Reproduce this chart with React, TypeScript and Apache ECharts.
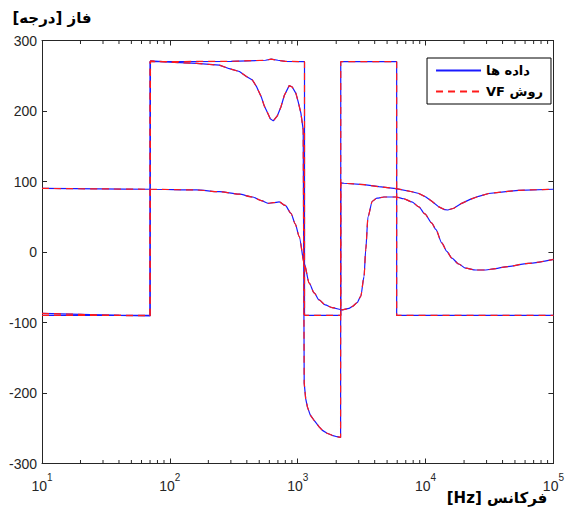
import React, { useEffect, useRef } from "react";
import * as echarts from "echarts";

// Frequency (Hz), phase (deg)
const curveA: [number, number][] = [
  [10, 90.3], [28, 89.5], [70, 89], [162, 88], [244, 85.5], [350, 82], [442, 78], [519, 73],
  [589, 69], [644, 70], [717, 71], [799, 66], [885, 55], [956, 40], [1027, 22], [1124, -16],
  [1229, -44], [1345, -58], [1471, -68], [1639, -75], [1858, -79], [2223, -82], [2521, -80],
  [2661, -77.6], [2911, -72], [3111, -63], [3301, -35], [3403, 3], [3546, 50], [3832, 72],
  [4168, 76.5], [4726, 78], [5861, 78], [6767, 75.5], [7814, 71], [8859, 64], [9867, 54],
  [11190, 41], [12020, 32], [13390, 13], [14650, 1], [16020, -8.5], [18170, -17], [20600, -23],
  [24650, -25.5], [29500, -25.5], [35300, -23.5], [42240, -21], [63830, -16], [100000, -10.4],
];

const curveB: [number, number][] = [
  [10, -87], [20, -88.5], [40, -90], [70, -90.5], [70.5, 271], [109, 269], [162, 267.5],
  [244, 265], [292, 260], [350, 256], [397, 249], [442, 244], [475, 235], [519, 220],
  [548, 207], [582, 197], [610, 189], [644, 186], [692, 193], [740, 206], [785, 222],
  [858, 236], [906, 234], [968, 225], [1009, 213], [1059, 197], [1104, 173], [1124, -186],
  [1154, -208], [1192, -220], [1252, -231], [1345, -239], [1471, -248], [1561, -253],
  [1698, -257], [1858, -260], [2032, -262], [2164, -263], [2170, 98], [2305, 97.5],
  [3300, 95.5], [4320, 92.6], [5861, 90], [7814, 85.5], [8859, 83], [10045, 78], [11190, 72],
  [12690, 64], [14130, 60], [14910, 59.6], [16610, 62], [19170, 69], [22540, 75], [26020, 79],
  [31140, 83], [39320, 85], [53350, 87.5], [100000, 89],
];

const curveC: [number, number][] = [
  [10, -90], [70, -90], [70, 270], [300, 270.5], [560, 272], [620, 273.5], [700, 272],
  [800, 270.5], [1130, 270], [1130, -90], [2170, -90], [2170, 270], [5940, 270], [5940, -90],
  [100000, -90],
];

const yTicks = { min: -300, max: 300, interval: 100 };
const xRange = { min: 10, max: 100000 };
const minorTicks: number[] = [];
for (const d of [10, 100, 1000, 10000]) for (let k = 2; k <= 9; k++) minorTicks.push(k * d);

const nameData = "داده ها";
const nameVF = "روش VF";
const yTitle = "فاز [درجه]";
const xTitle = "فرکانس [Hz]";

const AX = "#262626";
const FONT = "'Liberation Sans', Arial, sans-serif";
const PFONT = "'DejaVu Sans', sans-serif";

export default function App() {
  const ref = useRef<HTMLDivElement>(null);
  useEffect(() => {
    if (!ref.current) return;
    const chart = echarts.init(ref.current, undefined, { renderer: "svg" });
    const curves: [[number, number][], number][] = [[curveA, 0.25], [curveB, 0], [curveC, 0]];
    const blue = curves.map(([c, s]) => ({
      type: "line", name: nameData, data: c, symbol: "none", showSymbol: false,
      smooth: s, smoothMonotone: "x",
      lineStyle: { color: "#1a1aff", width: 1.2 }, itemStyle: { color: "#0000ff" },
      z: 2, silent: true,
    }));
    const red = curves.map(([c, s]) => ({
      type: "line", name: nameVF, data: c, symbol: "none", showSymbol: false,
      smooth: s, smoothMonotone: "x",
      lineStyle: { color: "#ff1a1a", width: 1.2, type: [7, 5] }, itemStyle: { color: "#ff0000" },
      z: 3, silent: true,
    }));
    const minor = {
      type: "custom", name: "minor", silent: true, clip: false, z: 5,
      data: minorTicks.map((f) => [f, 0]),
      encode: { x: 0, y: 1 },
      renderItem: (params: any, api: any) => {
        const p = api.coord([api.value(0), 0]);
        const cs = params.coordSys;
        const top = cs.y, bot = cs.y + cs.height;
        return {
          type: "group",
          children: [
            { type: "line", shape: { x1: p[0], y1: bot, x2: p[0], y2: bot - 3.5 }, style: { stroke: AX, lineWidth: 1 } },
            { type: "line", shape: { x1: p[0], y1: top, x2: p[0], y2: top + 3.5 }, style: { stroke: AX, lineWidth: 1 } },
          ],
        };
      },
    };
    const xBase = {
      type: "log", logBase: 10, min: xRange.min, max: xRange.max,
      axisLine: { show: true, onZero: false, lineStyle: { color: AX, width: 1 } },
      axisTick: { show: true, inside: true, length: 5, lineStyle: { color: AX } },
      splitLine: { show: false },
      minorTick: { show: false },
    };
    const yBase = {
      type: "value", min: yTicks.min, max: yTicks.max, interval: yTicks.interval,
      axisLine: { show: true, onZero: false, lineStyle: { color: AX, width: 1 } },
      axisTick: { show: true, inside: true, length: 5, lineStyle: { color: AX } },
      splitLine: { show: false },
    };
    chart.setOption({
      animation: false,
      backgroundColor: "#fff",
      grid: { left: 42, right: 12, top: 40.5, bottom: 48.5, containLabel: false },
      xAxis: [
        {
          ...xBase, position: "bottom",
          axisLabel: {
            margin: 9, color: AX,
            formatter: (v: number) => "{b|10}{s|" + Math.round(Math.log10(v)) + "}",
            rich: {
              b: { fontSize: 14, fontFamily: FONT, color: AX, lineHeight: 20, verticalAlign: "bottom" },
              s: { fontSize: 10, fontFamily: FONT, color: AX, lineHeight: 10, verticalAlign: "top" },
            },
          },
        },
        { ...xBase, position: "top", axisLabel: { show: false } },
      ],
      yAxis: [
        { ...yBase, position: "left", axisLabel: { fontSize: 14, fontFamily: FONT, color: AX, margin: 5 } },
        { ...yBase, position: "right", axisLabel: { show: false } },
      ],
      legend: {
        data: [nameData, nameVF], orient: "vertical", right: 16, top: 58,
        itemWidth: 45, itemHeight: 12, itemGap: 8, padding: [6, 8, 6, 8],
        borderColor: "#000", borderWidth: 1, backgroundColor: "#fff", borderRadius: 0,
        itemStyle: { opacity: 0 },
        textStyle: { fontFamily: PFONT, fontWeight: "bold", fontSize: 13, color: "#000" },
        selectedMode: false,
      },
      graphic: [
        { type: "text", x: 52, y: 18, style: { text: yTitle, font: "bold 15px " + PFONT, fill: "#000", textAlign: "center", textVerticalAlign: "middle" } },
        { type: "text", x: 497, y: 498, style: { text: xTitle, font: "bold 15px " + PFONT, fill: "#000", textAlign: "center", textVerticalAlign: "middle" } },
      ],
      series: [...blue, ...red, minor],
    });
    return () => chart.dispose();
  }, []);
  return (
    <>
      <style>{"#root svg text { unicode-bidi: plaintext; }"}</style>
      <div ref={ref} style={{ position: "fixed", left: 0, top: 0, width: 567, height: 512 }} />
    </>
  );
}
